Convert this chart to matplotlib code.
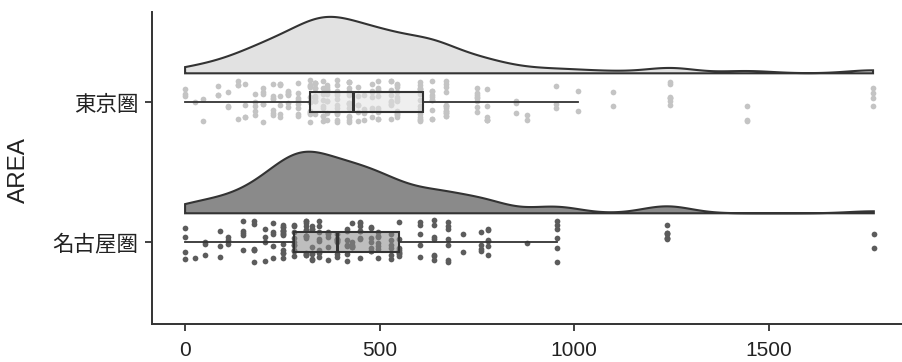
import numpy as np
import matplotlib.pyplot as plt
from matplotlib.colors import to_rgb

plt.rcParams['font.family'] = ['Liberation Sans Narrow', 'Liberation Sans', 'Noto Sans CJK JP']

areas = ["名古屋圏", "東京圏"]

nagoya_vals = [0, 26, 51, 90, 110, 150, 178, 206, 226, 252, 280, 310, 326, 345, 367, 390,
               415, 428, 450, 478, 495, 530, 550, 604, 640, 676, 714, 760, 778, 878, 955, 1238, 1770]
nagoya_counts = [4, 1, 3, 3, 3, 5, 6, 4, 5, 14, 10, 14, 8, 8, 6, 8,
                 7, 6, 8, 7, 7, 6, 8, 5, 7, 7, 2, 4, 6, 1, 6, 7, 2]

tokyo_vals = [0, 26, 45, 85, 110, 135, 155, 180, 200, 225, 245, 265, 290,
              320, 335, 355, 365, 390, 420,
              445, 460, 480, 495, 530, 545, 605,
              635, 670, 750, 777, 850, 878, 953, 1010, 1100, 1247, 1444, 1768]
tokyo_counts = [3, 1, 2, 3, 3, 4, 4, 5, 6, 7, 7, 7, 8,
                12, 10, 9, 9, 13, 15,
                6, 6, 7, 10, 9, 12, 14,
                10, 14, 8, 6, 3, 2, 3, 2, 2, 7, 3, 4]

fill_cols = ["#8a8a8a", "#e2e2e2"]
point_cols = ["#5c5c5c", "#c4c4c4"]
edge = "#333333"


def kde_nrd0(x, n=512):
    x = np.asarray(x, float)
    sd = x.std(ddof=1)
    q75, q25 = np.percentile(x, [75, 25])
    bw = 0.9 * min(sd, (q75 - q25) / 1.34) * len(x) ** -0.2
    grid = np.linspace(x.min(), x.max(), n)
    d = np.exp(-0.5 * ((grid[:, None] - x[None, :]) / bw) ** 2).sum(1)
    d /= len(x) * bw * np.sqrt(2 * np.pi)
    return grid, d


groups = [np.repeat(nagoya_vals, nagoya_counts), np.repeat(tokyo_vals, tokyo_counts)]
dens = [kde_nrd0(g) for g in groups]
dmax = max(d.max() for _, d in dens)

fig = plt.figure(figsize=(9.03, 3.62), dpi=100)
ax = fig.add_axes([152 / 903, 38 / 362, 751 / 903, 312 / 362])

rng = np.random.default_rng(3)
offset = 0.205
height = 0.44
for i, g in enumerate(groups):
    pos = i + 1
    grid, d = dens[i]
    top = pos + offset + d / dmax * height
    xs = np.concatenate([grid, grid[::-1]])
    ys = np.concatenate([top, np.full_like(grid, pos + offset)])
    ax.fill(xs, ys, facecolor=fill_cols[i], edgecolor=edge, linewidth=1.5, zorder=2)
    jit = rng.uniform(-0.145, 0.16, len(g))
    ax.scatter(g, pos + jit, s=17, color=point_cols[i], linewidths=0, zorder=3)

bp = ax.boxplot(groups, positions=[1, 2], widths=0.145, orientation='horizontal',
                showfliers=False, showcaps=False, patch_artist=True,
                boxprops=dict(edgecolor=edge, linewidth=1.5),
                whiskerprops=dict(color=edge, linewidth=1.3),
                medianprops=dict(color=edge, linewidth=2.2),
                zorder=4)
for patch, c in zip(bp['boxes'], fill_cols):
    patch.set_facecolor((*to_rgb(c), 0.55))

ax.set_xlim(-85, 1845)
ax.set_ylim(0.414, 2.643)
ax.set_xticks([0, 500, 1000, 1500])
ax.set_yticks([1, 2])
ax.set_yticklabels(areas, family=['Noto Sans CJK JP'], fontsize=15.5, color="#222222")
ax.tick_params(axis='x', labelsize=15, length=5, width=1.3, color=edge, pad=7, labelcolor="#222222")
ax.tick_params(axis='y', length=5, width=1.3, color=edge, pad=5)
fig.text(19 / 903, 1 - 170 / 362, "AREA", rotation=90, ha='center', va='center',
         family=['Liberation Sans'], fontsize=17.5, color="#222222")
for s in ['top', 'right']:
    ax.spines[s].set_visible(False)
for s in ['left', 'bottom']:
    ax.spines[s].set_color(edge)
    ax.spines[s].set_linewidth(1.4)

fig.savefig("out.png", dpi=100)
